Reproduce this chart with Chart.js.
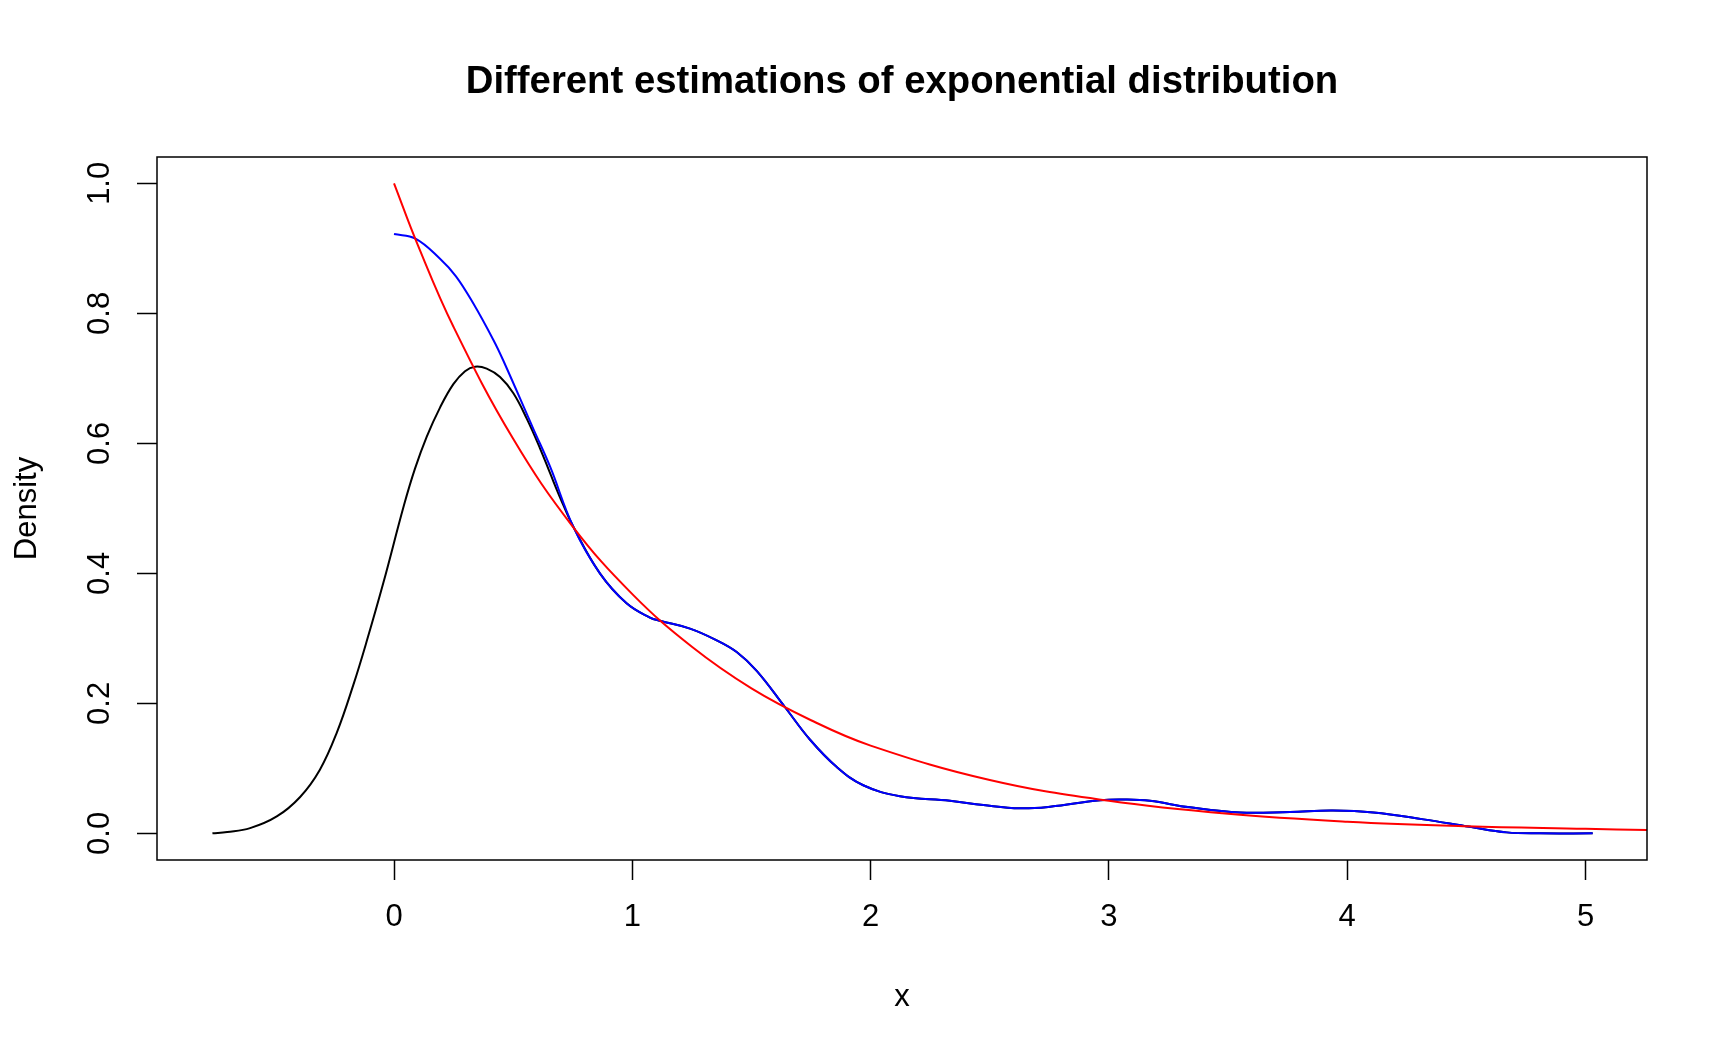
<!DOCTYPE html>
<html lang="en">
<head>
    <meta charset="UTF-8">
    <title>Different estimations of exponential distribution</title>
    <script src="https://cdn.jsdelivr.net/npm/chart.js"></script>
    <style>
        html, body { margin: 0; padding: 0; background: #fff; }
        canvas { display: block; }
    </style>
</head>
<body>
    <canvas id="densityChart" width="1728" height="1056"></canvas>

    <script>
        // values
        const xTicks = [0, 1, 2, 3, 4, 5];
        const xTickLabels = ["0", "1", "2", "3", "4", "5"];
        const yTicks = [0, 0.2, 0.4, 0.6, 0.8, 1.0];
        const yTickLabels = ["0.0", "0.2", "0.4", "0.6", "0.8", "1.0"];

        // plain kernel density (black), hidden under the blue one past x ~ 0.75
        const blackX = [-0.762, -0.70, -0.604, -0.492, -0.394, -0.311, -0.24, -0.171, -0.115, -0.045, 0.042, 0.088, 0.137, 0.193, 0.249, 0.298, 0.34,
                        0.389, 0.445, 0.501, 0.557, 0.613, 0.655, 0.70, 0.752,
                        0.864, 0.976, 1.074, 1.116, 1.242, 1.354, 1.438, 1.522, 1.641, 1.746, 1.858, 1.969, 2.123, 2.333, 2.473, 2.627, 2.753, 2.963, 3.075, 3.172,
                        3.34, 3.55, 3.76, 3.94, 4.11, 4.32, 4.515, 4.669, 4.809, 5.03];
        const blackY = [0.000, 0.002, 0.008, 0.026, 0.056, 0.098, 0.155, 0.228, 0.295, 0.385, 0.505, 0.561, 0.610, 0.655, 0.691, 0.711, 0.718,
                        0.715, 0.702, 0.677, 0.638, 0.592, 0.554, 0.514, 0.472,
                        0.400, 0.354, 0.332, 0.327, 0.315, 0.297, 0.279, 0.250, 0.194, 0.144, 0.102, 0.074, 0.057, 0.050, 0.0435, 0.0385, 0.041, 0.051, 0.052, 0.050,
                        0.040, 0.032, 0.033, 0.035, 0.032, 0.0215, 0.010, 0.0015, 0.0, 0.0];

        // boundary corrected density (blue)
        const blueX = [0.000, 0.09, 0.193, 0.26, 0.333, 0.417, 0.459, 0.585, 0.655, 0.752, 0.864, 0.976, 1.074, 1.116, 1.242, 1.354, 1.438, 1.522, 1.641, 1.746, 1.858, 1.969,
                       2.123, 2.333, 2.473, 2.627, 2.753, 2.963, 3.075, 3.172, 3.34, 3.55, 3.76, 3.94, 4.11, 4.32, 4.515, 4.669, 4.809, 5.03];
        const blueY = [0.922, 0.915, 0.884, 0.857, 0.815, 0.759, 0.727, 0.622, 0.564, 0.472, 0.400, 0.354, 0.332, 0.327, 0.315, 0.297, 0.279, 0.250, 0.194, 0.144, 0.102, 0.074,
                       0.057, 0.050, 0.0435, 0.0385, 0.041, 0.051, 0.052, 0.050, 0.040, 0.032, 0.033, 0.035, 0.032, 0.0215, 0.010, 0.0015, 0.0, 0.0];

        // exponential density (red)
        const redX = [0, 0.1, 0.25, 0.5, 0.75, 1, 1.25, 1.5, 1.75, 2, 2.5, 3, 3.5, 4, 4.5, 5, 5.26];
        const redY = [1.0, 0.905, 0.779, 0.607, 0.472, 0.368, 0.287, 0.223, 0.174, 0.135, 0.082, 0.050, 0.030, 0.018, 0.011, 0.007, 0.005];

        const FONT = "'Liberation Sans', Arial, Helvetica, sans-serif";

        function toPoints(xs, ys) {
            return xs.map((x, i) => ({ x: x, y: ys[i] }));
        }

        function line(label, xs, ys, color, order) {
            return {
                label: label,
                data: toPoints(xs, ys),
                showLine: true,
                borderColor: color,
                backgroundColor: color,
                borderWidth: 2,
                pointRadius: 0,
                tension: 0.4,
                order: order
            };
        }

        // title, axis titles, rotated y labels and the box, like base R graphics
        const rDecor = {
            id: "rDecor",
            afterDatasetsDraw(chart) {
                const { ctx, chartArea: a, scales } = chart;
                ctx.save();
                ctx.strokeStyle = "#000";
                ctx.lineWidth = 1.5;
                ctx.strokeRect(a.left, a.top, a.right - a.left, a.bottom - a.top);
                ctx.fillStyle = "#000";

                const cx = (a.left + a.right) / 2;
                const cy = (a.top + a.bottom) / 2;

                ctx.font = "bold 38.3px " + FONT;
                ctx.textAlign = "center";
                ctx.textBaseline = "alphabetic";
                ctx.fillText("Different estimations of exponential distribution", cx, 93);

                ctx.font = "31px " + FONT;
                ctx.fillText("x", cx, 1006);

                ctx.textBaseline = "middle";
                scales.y.ticks.forEach((t, i) => {
                    const py = scales.y.getPixelForValue(t.value);
                    ctx.save();
                    ctx.translate(100, py);
                    ctx.rotate(-Math.PI / 2);
                    ctx.fillText(yTickLabels[i], 0, 0);
                    ctx.restore();
                });

                ctx.translate(27, cy);
                ctx.rotate(-Math.PI / 2);
                ctx.fillText("Density", 0, 0);
                ctx.restore();
            }
        };

        new Chart(document.getElementById("densityChart"), {
            type: "scatter",
            data: {
                datasets: [
                    line("density", blackX, blackY, "#000000", 3),
                    line("corrected", blueX, blueY, "#0000ff", 2),
                    line("dexp", redX, redY, "#ff0000", 1)
                ]
            },
            options: {
                responsive: false,
                animation: false,
                devicePixelRatio: 1,
                layout: { padding: { top: 157, right: 81, bottom: 0, left: 0 } },
                plugins: {
                    legend: { display: false },
                    tooltip: { enabled: false }
                },
                scales: {
                    x: {
                        type: "linear",
                        min: -0.9946,
                        max: 5.258,
                        afterBuildTicks: s => { s.ticks = xTicks.map(v => ({ value: v })); },
                        afterFit: s => { s.height = 196; },
                        border: { display: false },
                        grid: { drawOnChartArea: false, drawTicks: true, tickLength: 20, tickColor: "#000", tickWidth: 1.5 },
                        ticks: {
                            color: "#000",
                            padding: 19,
                            maxRotation: 0,
                            font: { family: FONT, size: 31 },
                            callback: (v, i) => xTickLabels[i]
                        }
                    },
                    y: {
                        type: "linear",
                        min: -0.041,
                        max: 1.0405,
                        afterBuildTicks: s => { s.ticks = yTicks.map(v => ({ value: v })); },
                        afterFit: s => { s.width = 157; },
                        border: { display: false },
                        grid: { drawOnChartArea: false, drawTicks: true, tickLength: 20, tickColor: "#000", tickWidth: 1.5 },
                        ticks: { display: false }
                    }
                }
            },
            plugins: [rDecor]
        });
    </script>
</body>
</html>
